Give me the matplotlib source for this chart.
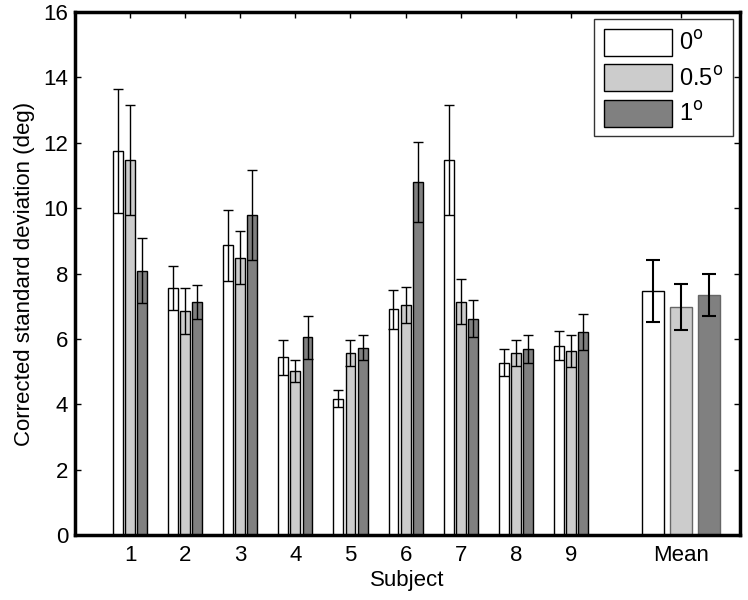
import matplotlib.pyplot as plt
import numpy as np

plt.rcParams['font.family'] = ['Liberation Sans', 'DejaVu Sans']

# data
subjects = ['1', '2', '3', '4', '5', '6', '7', '8', '9']
labels = ['0$^\\mathrm{o}$', '0.5$^\\mathrm{o}$', '1$^\\mathrm{o}$']
sd_0 = [11.75, 7.56, 8.86, 5.44, 4.17, 6.91, 11.47, 5.27, 5.80]
sd_05 = [11.47, 6.85, 8.49, 5.02, 5.58, 7.04, 7.14, 5.58, 5.64]
sd_1 = [8.09, 7.13, 9.80, 6.05, 5.73, 10.80, 6.62, 5.70, 6.20]
err_0 = [1.90, 0.67, 1.10, 0.54, 0.26, 0.60, 1.68, 0.41, 0.45]
err_05 = [1.68, 0.70, 0.82, 0.34, 0.40, 0.56, 0.69, 0.40, 0.49]
err_1 = [1.00, 0.53, 1.38, 0.65, 0.38, 1.22, 0.57, 0.43, 0.55]
mean_vals = [7.47, 6.98, 7.35]
mean_err = [0.95, 0.70, 0.65]

colors = ['white', '#cccccc', '#808080']

fig = plt.figure(figsize=(7.48, 6.0), dpi=100)
ax = fig.add_axes([0.1003, 0.108, 0.889, 0.872])

x = np.arange(1, len(subjects) + 1)
w = 0.18
off = 0.22
series = [(sd_0, err_0), (sd_05, err_05), (sd_1, err_1)]
for i, (vals, errs) in enumerate(series):
    xi = x + (i - 1) * off
    ax.bar(xi, vals, w, color=colors[i], edgecolor='black', linewidth=1.0,
           label=labels[i], zorder=2)
    ax.errorbar(xi, vals, yerr=errs, fmt='none', ecolor='black',
                elinewidth=1.0, capsize=3.6, capthick=1.0, zorder=3)

# mean group
xm = 11
wm = 0.41
offm = 0.51
mean_edges = ['black', '#666666', '#666666']
for i in range(3):
    ax.bar(xm + (i - 1) * offm, mean_vals[i], wm, color=colors[i],
           edgecolor=mean_edges[i], linewidth=1.0, zorder=2)
    ax.errorbar(xm + (i - 1) * offm, mean_vals[i], yerr=mean_err[i],
                fmt='none', ecolor='black', elinewidth=1.5, capsize=5,
                capthick=1.5, zorder=3)

ax.set_xlim(0, 12.07)
ax.set_ylim(0, 16)
ax.set_xticks(list(x) + [xm])
ax.set_xticklabels(subjects + ['Mean'])
ax.set_yticks(np.arange(0, 17, 2))
ax.tick_params(direction='in', top=True, right=True, labelsize=16,
               length=4, width=1)
ax.tick_params(axis='x', pad=7)
ax.tick_params(axis='y', pad=5)
for s in ax.spines.values():
    s.set_linewidth(2.5)

ax.set_xlabel('Subject', fontsize=16, labelpad=3)
ax.set_ylabel('Corrected standard deviation (deg)', fontsize=16, labelpad=6)

leg = ax.legend(loc='upper right', fontsize=17, fancybox=False,
                edgecolor='#333333', handlelength=2.9, handleheight=1.4,
                handletextpad=0.3, borderaxespad=0.3, labelspacing=0.35,
                framealpha=1)
leg.get_frame().set_linewidth(1.0)

fig.savefig('out.png', dpi=100)
